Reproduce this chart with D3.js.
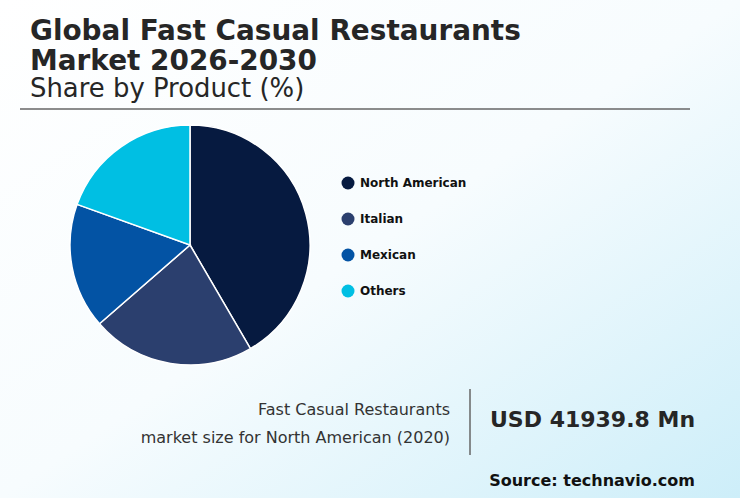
<!DOCTYPE html>
<html>
<head>
<meta charset="utf-8">
<script src="https://cdn.jsdelivr.net/npm/d3@7"></script>
<style>
  body { margin: 0; }
  svg { font-family: "DejaVu Sans", sans-serif; display: block; }
</style>
</head>
<body>
<script>
// chart data
var categories = ["North American", "Italian", "Mexican", "Others"];
var shares = [41.6, 22.0, 16.9, 19.5];
var colors = ["#061a40", "#2b3f6e", "#0353a4", "#00bfe3"];

var width = 740, height = 498;

var svg = d3.select("body").append("svg")
    .attr("width", width)
    .attr("height", height);

// background gradient
var grad = svg.append("defs").append("linearGradient")
    .attr("id", "bg").attr("x1", "0").attr("y1", "0").attr("x2", "1").attr("y2", "1");
grad.append("stop").attr("offset", "0%").attr("stop-color", "#ffffff");
grad.append("stop").attr("offset", "50%").attr("stop-color", "#f7fcfe");
grad.append("stop").attr("offset", "100%").attr("stop-color", "#cdeef9");
svg.append("rect").attr("width", width).attr("height", height).attr("fill", "url(#bg)");

// titles
svg.append("text").attr("x", 30).attr("y", 40)
    .attr("font-size", 27.9).attr("font-weight", "bold").attr("fill", "#262626")
    .text("Global Fast Casual Restaurants");
svg.append("text").attr("x", 30).attr("y", 70)
    .attr("font-size", 27.9).attr("font-weight", "bold").attr("fill", "#262626")
    .text("Market 2026-2030");
svg.append("text").attr("x", 30).attr("y", 97)
    .attr("font-size", 25.9).attr("fill", "#262626")
    .text("Share by Product (%)");
svg.append("line").attr("x1", 20).attr("x2", 690).attr("y1", 109).attr("y2", 109)
    .attr("stroke", "#666").attr("stroke-width", 1.5);

// pie
var pie = d3.pie().sort(null).value(function(d) { return d; });
var arc = d3.arc().innerRadius(0).outerRadius(120);
var g = svg.append("g").attr("transform", "translate(190,245)");
g.selectAll("path")
    .data(pie(shares))
    .enter()
    .append("path")
    .attr("d", arc)
    .attr("fill", function(d, i) { return colors[i]; })
    .attr("stroke", "#fff")
    .attr("stroke-width", 1.5);

// legend
var legend = svg.selectAll(".lg")
    .data(categories)
    .enter()
    .append("g")
    .attr("transform", function(d, i) { return "translate(348," + (183 + i * 36) + ")"; });
legend.append("circle").attr("r", 6.5).attr("fill", function(d, i) { return colors[i]; });
legend.append("text").attr("x", 12).attr("y", 4)
    .attr("font-size", 12).attr("font-weight", "bold").attr("fill", "#111")
    .text(function(d) { return d; });

// footer
svg.append("text").attr("x", 450).attr("y", 415).attr("text-anchor", "end")
    .attr("font-size", 16).attr("fill", "#333").text("Fast Casual Restaurants");
svg.append("text").attr("x", 450).attr("y", 443).attr("text-anchor", "end")
    .attr("font-size", 16).attr("fill", "#333").text("market size for North American (2020)");
svg.append("line").attr("x1", 470).attr("x2", 470).attr("y1", 389).attr("y2", 455)
    .attr("stroke", "#666").attr("stroke-width", 1.5);
svg.append("text").attr("x", 490).attr("y", 427)
    .attr("font-size", 22).attr("font-weight", "bold").attr("fill", "#262626")
    .text("USD 41939.8 Mn");
svg.append("text").attr("x", 695).attr("y", 486).attr("text-anchor", "end")
    .attr("font-size", 16).attr("font-weight", "bold").attr("fill", "#111")
    .text("Source: technavio.com");
</script>
</body>
</html>
